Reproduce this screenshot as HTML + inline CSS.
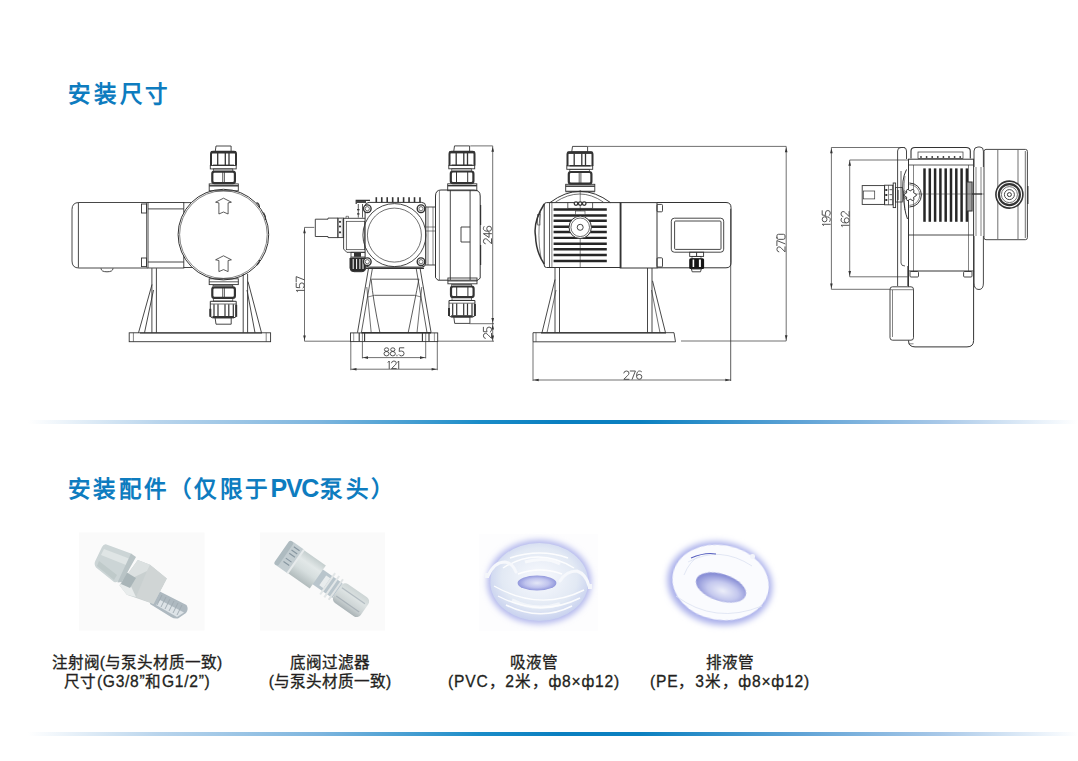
<!DOCTYPE html>
<html lang="zh-CN"><head><meta charset="utf-8">
<style>
html,body{margin:0;padding:0;background:#fff;}
body{width:1078px;height:761px;position:relative;overflow:hidden;font-family:"Liberation Sans",sans-serif;}
.t{position:absolute;color:#0e7cbf;font-weight:bold;font-size:22.5px;letter-spacing:2.8px;white-space:nowrap;line-height:1;}
.cap{position:absolute;color:#231f20;-webkit-text-stroke:0.3px #231f20;font-size:15.6px;line-height:19.3px;text-align:center;white-space:nowrap;}
.div{position:absolute;left:0;width:1078px;height:4px;}
svg{position:absolute;left:0;top:0;}
</style></head><body>
<div class="t" style="left:68px;top:83.5px;">安装尺寸</div>
<div class="t" style="left:68px;top:479px;letter-spacing:2.3px">安装配件（仅限于<span style="font-size:25px;letter-spacing:-1.2px;line-height:0;margin-right:2px">PVC</span>泵头）</div>
<div class="div" style="top:420px;background:linear-gradient(to right,rgba(255,255,255,0) 0px,#ffffff 28px,#b8d4ec 160px,#7db5de 320px,#1a8cc8 480px,#0a7fc0 560px,#0a80c0 640px,#5fa3d6 800px,#a8c8e8 940px,#e8f1fa 1040px,#ffffff 1078px);"></div>
<div class="div" style="top:732px;background:linear-gradient(to right,rgba(255,255,255,0) 0px,#ffffff 28px,#b8d4ec 160px,#7db5de 320px,#1a8cc8 480px,#0a7fc0 560px,#0a80c0 640px,#5fa3d6 800px,#a8c8e8 940px,#e8f1fa 1040px,#ffffff 1078px);"></div>
<svg width="1078" height="761" viewBox="0 0 1078 761">
<path d="M148,202.5 H79 Q72,202.5 72,209.5 V261 Q72,268 79,268 H148" fill="none" stroke="#333333" stroke-width="0.9"/>
<line x1="78.4" y1="203" x2="78.4" y2="267.5" stroke="#333333" stroke-width="0.9"/>
<rect x="148" y="202.5" width="35.8" height="65.5" rx="0" fill="none" stroke="#333333" stroke-width="0.9"/>
<line x1="146.5" y1="203" x2="146.5" y2="267.5" stroke="#333333" stroke-width="0.7"/>
<line x1="148" y1="208.9" x2="183.8" y2="208.9" stroke="#333333" stroke-width="0.9"/>
<line x1="148" y1="262" x2="183.8" y2="262" stroke="#333333" stroke-width="0.9"/>
<rect x="141.5" y="204" width="5.0" height="9" rx="0" fill="none" stroke="#333333" stroke-width="0.9"/>
<rect x="141.5" y="258" width="5.0" height="8.6" rx="0" fill="none" stroke="#333333" stroke-width="0.9"/>
<line x1="183.8" y1="202.6" x2="192" y2="202.6" stroke="#333333" stroke-width="0.9"/>
<line x1="183.8" y1="267.5" x2="192" y2="267.5" stroke="#333333" stroke-width="0.9"/>
<path d="M101,268.3 Q101,271.8 107,271.8 Q113,271.8 113,268.3" fill="none" stroke="#333333" stroke-width="0.9"/>
<circle cx="223.4" cy="234.6" r="45.3" fill="#fff" stroke="#333333" stroke-width="1.0"/>
<circle cx="223.4" cy="234.6" r="43.8" fill="none" stroke="#333333" stroke-width="0.6"/>
<path d="M256.5,202.5 Q259.5,203.5 259.5,208" fill="none" stroke="#333333" stroke-width="1.2"/>
<path d="M263.5,212.5 Q265.5,215 265.5,220" fill="none" stroke="#333333" stroke-width="1.2"/>
<path d="M257,265 Q259.5,263 259.5,260" fill="none" stroke="#333333" stroke-width="1.2"/>
<path d="M223.5,198.2 L215.6,202.2 L218.9,202.9 L218.9,214.0 L223.5,212.0 L228.1,214.0 L228.1,202.9 L231.4,202.2 Z" fill="none" stroke="#333333" stroke-width="0.8"/>
<path d="M223.5,255.8 L215.6,259.8 L218.9,260.5 L218.9,271.6 L223.5,269.6 L228.1,271.6 L228.1,260.5 L231.4,259.8 Z" fill="none" stroke="#333333" stroke-width="0.8"/>
<path d="M216.0,146 H231.1 V151.8 H215.2 Z" fill="none" stroke="#333333" stroke-width="0.9"/>
<path d="M211.0,165.5 V154 Q211.0,151.8 213.0,151.8 H234.0 Q236.0,151.8 236.0,154 V165.5" fill="none" stroke="#333333" stroke-width="2.0"/>
<line x1="211.0" y1="152.3" x2="236.0" y2="152.3" stroke="#333333" stroke-width="2.4"/>
<line x1="217.7" y1="153" x2="217.7" y2="165.5" stroke="#333333" stroke-width="1.3"/>
<line x1="225.3" y1="153" x2="225.3" y2="165.5" stroke="#333333" stroke-width="1.3"/>
<line x1="229.0" y1="153" x2="229.0" y2="165.5" stroke="#333333" stroke-width="1.3"/>
<line x1="213.0" y1="165.3" x2="234.0" y2="165.3" stroke="#333333" stroke-width="1.4"/>
<rect x="210.3" y="165.5" width="25.9" height="3.4" rx="0" fill="none" stroke="#333333" stroke-width="0.9"/>
<rect x="213.3" y="168.9" width="19.5" height="2.7" rx="0" fill="none" stroke="#333333" stroke-width="0.7"/>
<rect x="212.3" y="171.6" width="22.6" height="11.6" rx="2.2" fill="none" stroke="#333333" stroke-width="2.2"/>
<line x1="222.7" y1="172" x2="222.7" y2="183" stroke="#333333" stroke-width="0.8"/>
<line x1="224.4" y1="172" x2="224.4" y2="183" stroke="#333333" stroke-width="0.8"/>
<rect x="209.2" y="183.9" width="29.1" height="6.9" rx="0" fill="none" stroke="#333333" stroke-width="0.9"/>
<line x1="209.2" y1="185.8" x2="238.3" y2="185.8" stroke="#333333" stroke-width="1.4"/>
<rect x="209.2" y="278.8" width="29.1" height="5.8" rx="0" fill="none" stroke="#333333" stroke-width="0.9"/>
<line x1="209.2" y1="281.8" x2="238.3" y2="281.8" stroke="#333333" stroke-width="0.8"/>
<rect x="213.0" y="285.3" width="19.8" height="2.0" rx="0" fill="none" stroke="#333333" stroke-width="0.7"/>
<rect x="212.3" y="287.3" width="22.6" height="10.6" rx="2.2" fill="none" stroke="#333333" stroke-width="2.2"/>
<line x1="222.7" y1="287.8" x2="222.7" y2="297.8" stroke="#333333" stroke-width="0.8"/>
<line x1="224.4" y1="287.8" x2="224.4" y2="297.8" stroke="#333333" stroke-width="0.8"/>
<rect x="213.3" y="298.2" width="19.5" height="2.8" rx="0" fill="none" stroke="#333333" stroke-width="0.7"/>
<path d="M210.3,301.3 H236.2 V315.3 Q236.2,317.7 234.0,317.7 H212.5 Q210.3,317.7 210.3,315.3 Z" fill="none" stroke="#333333" stroke-width="1.0"/>
<line x1="210.3" y1="304.0" x2="236.2" y2="304.0" stroke="#333333" stroke-width="0.7"/>
<line x1="210.3" y1="308.8" x2="210.3" y2="316.8" stroke="#333333" stroke-width="2.0"/>
<line x1="236.2" y1="304.8" x2="236.2" y2="316.8" stroke="#333333" stroke-width="2.0"/>
<line x1="214.0" y1="304.3" x2="214.0" y2="316.3" stroke="#333333" stroke-width="1.2"/>
<line x1="218.0" y1="304.3" x2="218.0" y2="316.3" stroke="#333333" stroke-width="1.2"/>
<line x1="225.0" y1="304.3" x2="225.0" y2="316.3" stroke="#333333" stroke-width="1.2"/>
<line x1="228.8" y1="304.3" x2="228.8" y2="316.3" stroke="#333333" stroke-width="1.2"/>
<line x1="233.3" y1="304.3" x2="233.3" y2="316.3" stroke="#333333" stroke-width="1.2"/>
<line x1="212.5" y1="317.1" x2="234.0" y2="317.1" stroke="#333333" stroke-width="2.2"/>
<path d="M215.1,317.7 H231.2 V324.2 H216.0 Z" fill="none" stroke="#333333" stroke-width="0.9"/>
<rect x="129.2" y="332.8" width="141.4" height="8.9" rx="0" fill="none" stroke="#333333" stroke-width="0.9"/>
<line x1="140" y1="333" x2="262" y2="333" stroke="#333333" stroke-width="1.2"/>
<line x1="133.4" y1="332.8" x2="133.4" y2="341.7" stroke="#333333" stroke-width="0.6"/>
<line x1="266.2" y1="332.8" x2="266.2" y2="341.7" stroke="#333333" stroke-width="0.6"/>
<line x1="151.9" y1="268.2" x2="151.9" y2="332.8" stroke="#333333" stroke-width="0.9"/>
<line x1="156.4" y1="268.2" x2="156.4" y2="332.8" stroke="#333333" stroke-width="0.9"/>
<line x1="152" y1="284.5" x2="138.5" y2="332.8" stroke="#333333" stroke-width="0.9"/>
<line x1="153.5" y1="290" x2="144.5" y2="332.8" stroke="#333333" stroke-width="0.9"/>
<line x1="243.2" y1="274" x2="243.2" y2="332.8" stroke="#333333" stroke-width="0.9"/>
<line x1="247.6" y1="274" x2="247.6" y2="332.8" stroke="#333333" stroke-width="0.9"/>
<line x1="248" y1="281.6" x2="261.5" y2="332.8" stroke="#333333" stroke-width="0.9"/>
<line x1="247" y1="290" x2="255" y2="332.8" stroke="#333333" stroke-width="0.9"/>
<rect x="425.7" y="207" width="9.8" height="58" rx="0" fill="none" stroke="#333333" stroke-width="0.9"/>
<line x1="428" y1="207" x2="428" y2="265" stroke="#333333" stroke-width="0.6"/>
<line x1="433" y1="207" x2="433" y2="265" stroke="#333333" stroke-width="0.6"/>
<line x1="425.7" y1="227" x2="435.5" y2="227" stroke="#333333" stroke-width="0.6"/>
<line x1="425.7" y1="231" x2="435.5" y2="231" stroke="#333333" stroke-width="0.6"/>
<path d="M441,190 H474 Q480.2,190 480.2,196 V278 L478,280.2 H438 L435.5,277.8 V196 Q435.5,190 441,190 Z" fill="#fff" stroke="#333333" stroke-width="1.0"/>
<line x1="439.4" y1="191" x2="439.4" y2="280" stroke="#333333" stroke-width="0.6"/>
<line x1="450.3" y1="190" x2="450.3" y2="280" stroke="#333333" stroke-width="0.9"/>
<line x1="470.1" y1="190" x2="470.1" y2="280" stroke="#333333" stroke-width="0.9"/>
<path d="M470.1,227 H461 V242 H470.1" fill="none" stroke="#333333" stroke-width="0.9"/>
<line x1="480.6" y1="205" x2="480.6" y2="225" stroke="#333333" stroke-width="1.2"/>
<line x1="480.6" y1="245" x2="480.6" y2="265" stroke="#333333" stroke-width="1.2"/>
<path d="M454.5,145.9 H469.6 V151.70000000000002 H453.7 Z" fill="none" stroke="#333333" stroke-width="0.9"/>
<path d="M449.5,165.4 V153.9 Q449.5,151.70000000000002 451.5,151.70000000000002 H472.5 Q474.5,151.70000000000002 474.5,153.9 V165.4" fill="none" stroke="#333333" stroke-width="2.0"/>
<line x1="449.5" y1="152.20000000000002" x2="474.5" y2="152.20000000000002" stroke="#333333" stroke-width="2.4"/>
<line x1="456.2" y1="152.9" x2="456.2" y2="165.4" stroke="#333333" stroke-width="1.3"/>
<line x1="463.8" y1="152.9" x2="463.8" y2="165.4" stroke="#333333" stroke-width="1.3"/>
<line x1="467.5" y1="152.9" x2="467.5" y2="165.4" stroke="#333333" stroke-width="1.3"/>
<line x1="451.5" y1="165.20000000000002" x2="472.5" y2="165.20000000000002" stroke="#333333" stroke-width="1.4"/>
<rect x="448.8" y="165.4" width="25.9" height="3.4" rx="0" fill="none" stroke="#333333" stroke-width="0.9"/>
<rect x="451.8" y="168.8" width="19.5" height="2.7" rx="0" fill="none" stroke="#333333" stroke-width="0.7"/>
<rect x="450.8" y="171.5" width="22.6" height="11.6" rx="2.2" fill="none" stroke="#333333" stroke-width="2.2"/>
<line x1="456.5" y1="171.9" x2="456.5" y2="182.9" stroke="#333333" stroke-width="1.0"/>
<line x1="467.7" y1="171.9" x2="467.7" y2="182.9" stroke="#333333" stroke-width="1.0"/>
<rect x="447.7" y="183.8" width="29.1" height="6.9" rx="0" fill="none" stroke="#333333" stroke-width="0.9"/>
<line x1="447.7" y1="185.7" x2="476.8" y2="185.7" stroke="#333333" stroke-width="1.4"/>
<rect x="447.9" y="278" width="29.1" height="5.8" rx="0" fill="none" stroke="#333333" stroke-width="0.9"/>
<line x1="447.9" y1="281" x2="477.0" y2="281" stroke="#333333" stroke-width="0.8"/>
<rect x="451.7" y="284.5" width="19.8" height="2.0" rx="0" fill="none" stroke="#333333" stroke-width="0.7"/>
<rect x="451.0" y="286.5" width="22.6" height="10.6" rx="2.2" fill="none" stroke="#333333" stroke-width="2.2"/>
<line x1="456.7" y1="287" x2="456.7" y2="297" stroke="#333333" stroke-width="1.0"/>
<line x1="467.9" y1="287" x2="467.9" y2="297" stroke="#333333" stroke-width="1.0"/>
<rect x="452.0" y="297.4" width="19.5" height="2.8" rx="0" fill="none" stroke="#333333" stroke-width="0.7"/>
<path d="M449.0,300.5 H474.9 V314.5 Q474.9,316.9 472.7,316.9 H451.2 Q449.0,316.9 449.0,314.5 Z" fill="none" stroke="#333333" stroke-width="1.0"/>
<line x1="449.0" y1="303.2" x2="474.9" y2="303.2" stroke="#333333" stroke-width="0.7"/>
<line x1="449.0" y1="308" x2="449.0" y2="316" stroke="#333333" stroke-width="2.0"/>
<line x1="474.9" y1="304" x2="474.9" y2="316" stroke="#333333" stroke-width="2.0"/>
<line x1="452.7" y1="303.5" x2="452.7" y2="315.5" stroke="#333333" stroke-width="1.2"/>
<line x1="456.7" y1="303.5" x2="456.7" y2="315.5" stroke="#333333" stroke-width="1.2"/>
<line x1="463.7" y1="303.5" x2="463.7" y2="315.5" stroke="#333333" stroke-width="1.2"/>
<line x1="467.5" y1="303.5" x2="467.5" y2="315.5" stroke="#333333" stroke-width="1.2"/>
<line x1="472.0" y1="303.5" x2="472.0" y2="315.5" stroke="#333333" stroke-width="1.2"/>
<line x1="451.2" y1="316.3" x2="472.7" y2="316.3" stroke="#333333" stroke-width="2.2"/>
<path d="M453.8,316.9 H469.9 V323.4 H454.7 Z" fill="none" stroke="#333333" stroke-width="0.9"/>
<line x1="376.3" y1="197.2" x2="376.3" y2="202.6" stroke="#333333" stroke-width="1.6"/>
<line x1="381.76" y1="197.2" x2="381.76" y2="202.6" stroke="#333333" stroke-width="1.6"/>
<line x1="387.22" y1="197.2" x2="387.22" y2="202.6" stroke="#333333" stroke-width="1.6"/>
<line x1="392.68" y1="197.2" x2="392.68" y2="202.6" stroke="#333333" stroke-width="1.6"/>
<line x1="398.14" y1="197.2" x2="398.14" y2="202.6" stroke="#333333" stroke-width="1.6"/>
<line x1="403.6" y1="197.2" x2="403.6" y2="202.6" stroke="#333333" stroke-width="1.6"/>
<line x1="409.06" y1="197.2" x2="409.06" y2="202.6" stroke="#333333" stroke-width="1.6"/>
<line x1="414.52" y1="197.2" x2="414.52" y2="202.6" stroke="#333333" stroke-width="1.6"/>
<line x1="419.98" y1="197.2" x2="419.98" y2="202.6" stroke="#333333" stroke-width="1.6"/>
<path d="M356.2,204 V200.3 H370" fill="none" stroke="#333333" stroke-width="1.2"/>
<line x1="356.5" y1="202" x2="366" y2="202" stroke="#333333" stroke-width="1.8"/>
<line x1="358.3" y1="204" x2="358.3" y2="217.6" stroke="#333333" stroke-width="0.8"/>
<line x1="362.5" y1="204" x2="362.5" y2="217.6" stroke="#333333" stroke-width="0.8"/>
<line x1="357" y1="209.7" x2="359.5" y2="209.7" stroke="#333333" stroke-width="1.2"/>
<line x1="357" y1="213.9" x2="359.5" y2="213.9" stroke="#333333" stroke-width="1.2"/>
<path d="M315.3,219.2 H328 V218.1 H337.9 V237.6 H328 V236.5 H315.3 Z" fill="#fff" stroke="#333333" stroke-width="0.9"/>
<rect x="337.9" y="218.1" width="5.7" height="19.5" rx="0" fill="none" stroke="#333333" stroke-width="0.9"/>
<circle cx="340" cy="221.8" r="1.1" fill="#333333"/>
<circle cx="340" cy="226.5" r="1.1" fill="#333333"/>
<circle cx="340" cy="232.3" r="1.1" fill="#333333"/>
<line x1="342.3" y1="219" x2="342.3" y2="237" stroke="#333333" stroke-width="0.5"/>
<path d="M365.8,218.3 H343.6 V249 L346.8,252.3 H365.8" fill="none" stroke="#333333" stroke-width="0.9"/>
<rect x="346.3" y="221.3" width="18.4" height="28.4" rx="0" fill="none" stroke="#333333" stroke-width="0.7"/>
<path d="M346,218.3 V216.3 H348.5 V218.3" fill="none" stroke="#333333" stroke-width="0.6"/>
<rect x="351" y="252.3" width="14.7" height="4.7" rx="0" fill="none" stroke="#333333" stroke-width="0.8"/>
<rect x="354" y="252.8" width="7" height="4" fill="#333333"/>
<path d="M350,258 H365.7 V268 Q365.7,271.7 361.5,271.7 H354 Q350,271.7 350,268 Z" fill="#2a2a2a" stroke="#333333" stroke-width="1.0"/>
<line x1="353.2" y1="259" x2="353.2" y2="269" stroke="#fff" stroke-width="1.0"/>
<line x1="356.6" y1="259" x2="356.6" y2="269" stroke="#fff" stroke-width="1.0"/>
<line x1="359.9" y1="259" x2="359.9" y2="269" stroke="#fff" stroke-width="1.0"/>
<line x1="363" y1="259" x2="363" y2="269" stroke="#fff" stroke-width="1.0"/>
<rect x="365.1" y="202.4" width="60.6" height="64.7" rx="4" fill="#fff" stroke="#333333" stroke-width="1.0"/>
<circle cx="394.4" cy="235.1" r="31.5" fill="none" stroke="#333333" stroke-width="0.9"/>
<circle cx="394.4" cy="235.1" r="27" fill="none" stroke="#333333" stroke-width="0.7"/>
<circle cx="367.3" cy="208.7" r="3.8" fill="#fff" stroke="#333333" stroke-width="1.4"/>
<circle cx="367.3" cy="208.7" r="2.1" fill="none" stroke="#333333" stroke-width="0.7"/>
<circle cx="421" cy="208.7" r="3.8" fill="#fff" stroke="#333333" stroke-width="1.4"/>
<circle cx="421" cy="208.7" r="2.1" fill="none" stroke="#333333" stroke-width="0.7"/>
<circle cx="367.3" cy="261.7" r="3.8" fill="#fff" stroke="#333333" stroke-width="1.4"/>
<circle cx="367.3" cy="261.7" r="2.1" fill="none" stroke="#333333" stroke-width="0.7"/>
<circle cx="421" cy="261.7" r="3.8" fill="#fff" stroke="#333333" stroke-width="1.4"/>
<circle cx="421" cy="261.7" r="2.1" fill="none" stroke="#333333" stroke-width="0.7"/>
<line x1="366" y1="268.3" x2="424" y2="268.3" stroke="#333333" stroke-width="1.5"/>
<line x1="368.4" y1="269" x2="357.5" y2="332.6" stroke="#333333" stroke-width="0.9"/>
<line x1="372.3" y1="269" x2="361.4" y2="332.6" stroke="#333333" stroke-width="0.8"/>
<line x1="420.2" y1="269" x2="431.1" y2="332.6" stroke="#333333" stroke-width="0.9"/>
<line x1="416.3" y1="269" x2="427" y2="332.6" stroke="#333333" stroke-width="0.8"/>
<line x1="366.8" y1="287" x2="371.2" y2="332.6" stroke="#333333" stroke-width="0.7"/>
<line x1="421.8" y1="287" x2="417" y2="332.6" stroke="#333333" stroke-width="0.7"/>
<path d="M371.2,279.5 Q373,300 379.9,332.6" fill="none" stroke="#333333" stroke-width="0.8"/>
<path d="M418.8,279.5 Q415,300 408.2,332.6" fill="none" stroke="#333333" stroke-width="0.8"/>
<line x1="371.2" y1="279.2" x2="419.2" y2="279.2" stroke="#333333" stroke-width="0.8"/>
<line x1="374.4" y1="295.3" x2="414.8" y2="295.3" stroke="#333333" stroke-width="0.8"/>
<line x1="368" y1="297" x2="374.4" y2="295.3" stroke="#333333" stroke-width="0.6"/>
<line x1="414.8" y1="295.3" x2="421" y2="297" stroke="#333333" stroke-width="0.6"/>
<rect x="350.5" y="332.9" width="87.2" height="8.7" rx="0" fill="none" stroke="#333333" stroke-width="0.9"/>
<line x1="353.7" y1="332.9" x2="353.7" y2="341.6" stroke="#333333" stroke-width="0.5"/>
<line x1="359.2" y1="332.9" x2="359.2" y2="341.6" stroke="#333333" stroke-width="1.1"/>
<line x1="362.4" y1="332.9" x2="362.4" y2="341.6" stroke="#333333" stroke-width="0.6"/>
<line x1="364.6" y1="332.9" x2="364.6" y2="341.6" stroke="#333333" stroke-width="1.1"/>
<line x1="422.4" y1="332.9" x2="422.4" y2="341.6" stroke="#333333" stroke-width="1.1"/>
<line x1="425.7" y1="332.9" x2="425.7" y2="341.6" stroke="#333333" stroke-width="0.6"/>
<line x1="429" y1="332.9" x2="429" y2="341.6" stroke="#333333" stroke-width="1.1"/>
<line x1="434.4" y1="332.9" x2="434.4" y2="341.6" stroke="#333333" stroke-width="0.5"/>
<line x1="361.4" y1="332.7" x2="431" y2="332.7" stroke="#333333" stroke-width="1.4"/>
<line x1="304.5" y1="227.4" x2="314.3" y2="227.4" stroke="#333333" stroke-width="0.7"/>
<line x1="304.5" y1="227.4" x2="304.5" y2="341.2" stroke="#333333" stroke-width="0.7"/>
<path d="M304.5,228.2 L303.2,233.2 L305.8,233.2 Z" fill="#333333"/>
<path d="M304.5,340.4 L303.2,335.4 L305.8,335.4 Z" fill="#333333"/>
<line x1="304.5" y1="341.2" x2="350.2" y2="341.2" stroke="#333333" stroke-width="0.7"/>
<line x1="438" y1="341.2" x2="494" y2="341.2" stroke="#333333" stroke-width="0.7"/>
<g transform="translate(296.2,291.8) rotate(-90) scale(1.0125)" fill="none" stroke="#4a4a4a" stroke-width="0.94" stroke-linecap="round" stroke-linejoin="round"><path d="M0.2,1.3 L1.4,0 V8" transform="translate(0,0)"/><path d="M4.8,0 H0.5 L0.2,3.6 Q1,3.2 2.5,3.2 Q5,3.2 5,5.6 Q5,8 2.5,8 Q0.6,8 0,6.8" transform="translate(3.8,0)"/><path d="M0,0 H5 L1.8,8" transform="translate(10.0,0)"/></g>
<line x1="470.3" y1="145.9" x2="492.7" y2="145.9" stroke="#333333" stroke-width="0.7"/>
<line x1="492.7" y1="145.9" x2="492.7" y2="341.2" stroke="#333333" stroke-width="0.7"/>
<path d="M492.7,146.7 L491.4,151.7 L494.0,151.7 Z" fill="#333333"/>
<path d="M492.7,322.9 L491.4,317.9 L494.0,317.9 Z" fill="#333333"/>
<line x1="469.6" y1="323.7" x2="494" y2="323.7" stroke="#333333" stroke-width="0.7"/>
<path d="M492.7,324.5 L491.4,329.5 L494.0,329.5 Z" fill="#333333"/>
<path d="M492.7,340.4 L491.4,335.4 L494.0,335.4 Z" fill="#333333"/>
<g transform="translate(483.4,243.8) rotate(-90) scale(1.0125)" fill="none" stroke="#4a4a4a" stroke-width="0.94" stroke-linecap="round" stroke-linejoin="round"><path d="M0,1.9 Q0.3,0 2.5,0 Q5,0 5,2 Q5,3.3 3.6,4.5 L0,8 H5" transform="translate(0,0)"/><path d="M3.8,8 V0 L0,5.6 H5" transform="translate(6.2,0)"/><path d="M4.6,0.6 Q3.8,0 2.8,0 Q0,0 0,4.5 V5.6 Q0,8 2.5,8 Q5,8 5,5.6 Q5,3.3 2.5,3.3 Q0.5,3.3 0,4.8" transform="translate(12.4,0)"/></g>
<g transform="translate(483.4,338.4) rotate(-90) scale(1.0125)" fill="none" stroke="#4a4a4a" stroke-width="0.94" stroke-linecap="round" stroke-linejoin="round"><path d="M0,1.9 Q0.3,0 2.5,0 Q5,0 5,2 Q5,3.3 3.6,4.5 L0,8 H5" transform="translate(0,0)"/><path d="M4.8,0 H0.5 L0.2,3.6 Q1,3.2 2.5,3.2 Q5,3.2 5,5.6 Q5,8 2.5,8 Q0.6,8 0,6.8" transform="translate(6.2,0)"/></g>
<line x1="362.4" y1="341.6" x2="362.4" y2="358.4" stroke="#333333" stroke-width="0.7"/>
<line x1="425.7" y1="341.6" x2="425.7" y2="358.4" stroke="#333333" stroke-width="0.7"/>
<line x1="362.4" y1="357.6" x2="425.7" y2="357.6" stroke="#333333" stroke-width="0.7"/>
<path d="M363,357.6 L368,356.3 L368,358.90000000000003 Z" fill="#333333"/>
<path d="M425,357.6 L420,356.3 L420,358.90000000000003 Z" fill="#333333"/>
<g transform="translate(384,347.8) scale(1.0125)" fill="none" stroke="#4a4a4a" stroke-width="0.94" stroke-linecap="round" stroke-linejoin="round"><path d="M2.5,3.6 Q0.4,3.6 0.4,1.8 Q0.4,0 2.5,0 Q4.6,0 4.6,1.8 Q4.6,3.6 2.5,3.6 Q0,3.6 0,5.8 Q0,8 2.5,8 Q5,8 5,5.8 Q5,3.6 2.5,3.6 Z" transform="translate(0,0)"/><path d="M2.5,3.6 Q0.4,3.6 0.4,1.8 Q0.4,0 2.5,0 Q4.6,0 4.6,1.8 Q4.6,3.6 2.5,3.6 Q0,3.6 0,5.8 Q0,8 2.5,8 Q5,8 5,5.8 Q5,3.6 2.5,3.6 Z" transform="translate(6.2,0)"/><path d="M0.4,7.3 V8" transform="translate(12.4,0)"/><path d="M4.8,0 H0.5 L0.2,3.6 Q1,3.2 2.5,3.2 Q5,3.2 5,5.6 Q5,8 2.5,8 Q0.6,8 0,6.8" transform="translate(14.8,0)"/></g>
<line x1="350.8" y1="341.6" x2="350.8" y2="370.2" stroke="#333333" stroke-width="0.7"/>
<line x1="437.3" y1="341.6" x2="437.3" y2="370.2" stroke="#333333" stroke-width="0.7"/>
<line x1="350.8" y1="369.2" x2="437.3" y2="369.2" stroke="#333333" stroke-width="0.7"/>
<path d="M351.5,369.2 L356.5,367.9 L356.5,370.5 Z" fill="#333333"/>
<path d="M436.6,369.2 L431.6,367.9 L431.6,370.5 Z" fill="#333333"/>
<g transform="translate(387.9,361) scale(0.95)" fill="none" stroke="#4a4a4a" stroke-width="1.00" stroke-linecap="round" stroke-linejoin="round"><path d="M0.2,1.3 L1.4,0 V8" transform="translate(0,0)"/><path d="M0,1.9 Q0.3,0 2.5,0 Q5,0 5,2 Q5,3.3 3.6,4.5 L0,8 H5" transform="translate(3.8,0)"/><path d="M0.2,1.3 L1.4,0 V8" transform="translate(10.0,0)"/></g>
<path d="M572.5,146.4 H587.6 V152.20000000000002 H571.7 Z" fill="none" stroke="#333333" stroke-width="0.9"/>
<path d="M567.5,165.9 V154.4 Q567.5,152.20000000000002 569.5,152.20000000000002 H590.5 Q592.5,152.20000000000002 592.5,154.4 V165.9" fill="none" stroke="#333333" stroke-width="2.0"/>
<line x1="567.5" y1="152.70000000000002" x2="592.5" y2="152.70000000000002" stroke="#333333" stroke-width="2.4"/>
<line x1="574.2" y1="153.4" x2="574.2" y2="165.9" stroke="#333333" stroke-width="1.3"/>
<line x1="581.8" y1="153.4" x2="581.8" y2="165.9" stroke="#333333" stroke-width="1.3"/>
<line x1="585.5" y1="153.4" x2="585.5" y2="165.9" stroke="#333333" stroke-width="1.3"/>
<line x1="569.5" y1="165.70000000000002" x2="590.5" y2="165.70000000000002" stroke="#333333" stroke-width="1.4"/>
<rect x="566.8" y="165.9" width="25.9" height="3.4" rx="0" fill="none" stroke="#333333" stroke-width="0.9"/>
<rect x="569.8" y="169.3" width="19.5" height="2.7" rx="0" fill="none" stroke="#333333" stroke-width="0.7"/>
<rect x="568.8" y="172.0" width="22.6" height="11.6" rx="2.2" fill="none" stroke="#333333" stroke-width="2.2"/>
<line x1="579.2" y1="172.4" x2="579.2" y2="183.4" stroke="#333333" stroke-width="0.8"/>
<line x1="580.9" y1="172.4" x2="580.9" y2="183.4" stroke="#333333" stroke-width="0.8"/>
<rect x="565.7" y="184.3" width="29.1" height="6.9" rx="0" fill="none" stroke="#333333" stroke-width="0.9"/>
<line x1="565.7" y1="186.2" x2="594.8" y2="186.2" stroke="#333333" stroke-width="1.4"/>
<path d="M550,202.6 Q580,180 610.5,202.6" fill="none" stroke="#333333" stroke-width="1.0"/>
<path d="M555.5,202 Q580,186 603.3,202" fill="none" stroke="#333333" stroke-width="0.7"/>
<line x1="565.5" y1="191.8" x2="595" y2="191.8" stroke="#333333" stroke-width="0.8"/>
<path d="M620.2,202.6 H546.5 Q544.2,202.6 544.2,205 V265 Q544.2,267.5 546.5,267.5 H620.2" fill="none" stroke="#333333" stroke-width="1.0"/>
<line x1="549.5" y1="202.6" x2="549.5" y2="267.5" stroke="#333333" stroke-width="0.8"/>
<line x1="551.9" y1="202.6" x2="551.9" y2="267.5" stroke="#333333" stroke-width="0.6"/>
<path d="M544.2,204 Q533,222 535.5,236 Q536,252 544.2,264" fill="none" stroke="#333333" stroke-width="1.5"/>
<path d="M540.5,212 Q537,236 541,258" fill="none" stroke="#333333" stroke-width="0.6"/>
<rect x="537.7" y="214.3" width="2.3" height="10.7" rx="0" fill="none" stroke="#333333" stroke-width="0.6"/>
<line x1="580.2" y1="190" x2="580.2" y2="267.5" stroke="#333333" stroke-width="0.6"/>
<line x1="553.6" y1="209.5" x2="606.8" y2="209.5" stroke="#262626" stroke-width="2.4"/>
<line x1="553.6" y1="215.5" x2="606.8" y2="215.5" stroke="#262626" stroke-width="2.4"/>
<line x1="553.6" y1="220.8" x2="606.8" y2="220.8" stroke="#262626" stroke-width="2.4"/>
<line x1="553.6" y1="226.7" x2="606.8" y2="226.7" stroke="#262626" stroke-width="2.4"/>
<line x1="553.6" y1="232" x2="606.8" y2="232" stroke="#262626" stroke-width="2.4"/>
<line x1="553.6" y1="237.9" x2="606.8" y2="237.9" stroke="#262626" stroke-width="2.4"/>
<line x1="553.6" y1="243.8" x2="606.8" y2="243.8" stroke="#262626" stroke-width="2.4"/>
<line x1="553.6" y1="249.2" x2="606.8" y2="249.2" stroke="#262626" stroke-width="2.4"/>
<line x1="553.6" y1="255" x2="606.8" y2="255" stroke="#262626" stroke-width="2.4"/>
<line x1="553.6" y1="261" x2="606.8" y2="261" stroke="#262626" stroke-width="2.4"/>
<line x1="567.8" y1="202.6" x2="567.8" y2="208.4" stroke="#333333" stroke-width="0.8"/>
<line x1="592.6" y1="202.6" x2="592.6" y2="208.4" stroke="#333333" stroke-width="0.8"/>
<line x1="567.8" y1="208.4" x2="592.6" y2="208.4" stroke="#333333" stroke-width="0.6"/>
<circle cx="576" cy="203.6" r="1.8" fill="#fff" stroke="#333333" stroke-width="1.3"/>
<circle cx="580.2" cy="203.6" r="1.8" fill="#fff" stroke="#333333" stroke-width="1.3"/>
<circle cx="584.2" cy="203.6" r="1.8" fill="#fff" stroke="#333333" stroke-width="1.3"/>
<rect x="575.5" y="211" width="9.5" height="3.5" rx="0" fill="#fff" stroke="#333333" stroke-width="0.6"/>
<circle cx="580.2" cy="227.3" r="11.2" fill="#fff" stroke="#333333" stroke-width="1.0"/>
<circle cx="580.2" cy="227.3" r="9.3" fill="none" stroke="#333333" stroke-width="0.7"/>
<circle cx="580.2" cy="227.3" r="3" fill="none" stroke="#333333" stroke-width="0.9"/>
<rect x="620.2" y="202.6" width="36.8" height="65.4" rx="0" fill="none" stroke="#333333" stroke-width="1.0"/>
<line x1="620.7" y1="202.6" x2="620.7" y2="268" stroke="#333333" stroke-width="1.6"/>
<rect x="657" y="204.4" width="5.5" height="7.4" rx="1" fill="none" stroke="#333333" stroke-width="0.9"/>
<rect x="657" y="257.8" width="5.5" height="9.2" rx="1" fill="none" stroke="#333333" stroke-width="0.9"/>
<path d="M657,202.5 H726 Q731,202.5 731,207.5 V262.8 Q731,267.8 726,267.8 H657" fill="none" stroke="#333333" stroke-width="1.0"/>
<line x1="730.7" y1="209" x2="730.7" y2="381" stroke="#333333" stroke-width="0.8"/>
<rect x="671.3" y="218.2" width="52.4" height="34.0" rx="3" fill="none" stroke="#333333" stroke-width="0.9"/>
<rect x="674.6" y="221" width="46.4" height="28.4" rx="1" fill="none" stroke="#333333" stroke-width="0.9"/>
<rect x="689.7" y="252.2" width="13.9" height="4.2" rx="0" fill="none" stroke="#333333" stroke-width="0.9"/>
<line x1="696.6" y1="252.2" x2="696.6" y2="256.4" stroke="#333333" stroke-width="1.0"/>
<rect x="692" y="256.4" width="9" height="2.4" rx="0" fill="none" stroke="#333333" stroke-width="0.6"/>
<rect x="689.2" y="258.3" width="14.9" height="10.8" rx="1.5" fill="#151515"/>
<rect x="692.6" y="259.5" width="1.6" height="7.5" fill="#fff"/>
<rect x="698.9" y="259.5" width="2" height="7.5" fill="#fff"/>
<path d="M691.4,269 H701.3 L700.5,271.8 H692.2 Z" fill="none" stroke="#333333" stroke-width="0.9"/>
<line x1="555" y1="268" x2="555" y2="332.7" stroke="#333333" stroke-width="0.9"/>
<line x1="559.5" y1="268" x2="559.5" y2="332.7" stroke="#333333" stroke-width="0.9"/>
<line x1="555" y1="279.5" x2="542" y2="332.7" stroke="#333333" stroke-width="0.9"/>
<line x1="556" y1="290" x2="547" y2="332.7" stroke="#333333" stroke-width="0.7"/>
<line x1="647.5" y1="268" x2="647.5" y2="332.7" stroke="#333333" stroke-width="0.9"/>
<line x1="652" y1="268" x2="652" y2="332.7" stroke="#333333" stroke-width="0.9"/>
<line x1="652.5" y1="280.8" x2="665.5" y2="332.7" stroke="#333333" stroke-width="0.9"/>
<line x1="651.5" y1="290" x2="660" y2="332.7" stroke="#333333" stroke-width="0.7"/>
<path d="M533,332.7 H674 L675.5,341.8 H533 Z" fill="none" stroke="#333333" stroke-width="0.9"/>
<line x1="541" y1="332.9" x2="666" y2="332.9" stroke="#333333" stroke-width="1.2"/>
<line x1="536" y1="332.7" x2="536" y2="341.8" stroke="#333333" stroke-width="0.6"/>
<line x1="588" y1="146.4" x2="786.2" y2="146.4" stroke="#333333" stroke-width="0.7"/>
<line x1="786.2" y1="146.4" x2="786.2" y2="341" stroke="#333333" stroke-width="0.7"/>
<path d="M786.2,147.2 L784.9000000000001,152.2 L787.5,152.2 Z" fill="#333333"/>
<path d="M786.2,340.2 L784.9000000000001,335.2 L787.5,335.2 Z" fill="#333333"/>
<line x1="681" y1="341" x2="786.2" y2="341" stroke="#333333" stroke-width="0.7"/>
<g transform="translate(776.9,251.9) rotate(-90) scale(1.0125)" fill="none" stroke="#4a4a4a" stroke-width="0.94" stroke-linecap="round" stroke-linejoin="round"><path d="M0,1.9 Q0.3,0 2.5,0 Q5,0 5,2 Q5,3.3 3.6,4.5 L0,8 H5" transform="translate(0,0)"/><path d="M0,0 H5 L1.8,8" transform="translate(6.2,0)"/><path d="M1.5,0 H3.5 Q5,0 5,1.6 V6.4 Q5,8 3.5,8 H1.5 Q0,8 0,6.4 V1.6 Q0,0 1.5,0 Z" transform="translate(12.4,0)"/></g>
<line x1="533" y1="341.8" x2="533" y2="381" stroke="#333333" stroke-width="0.7"/>
<line x1="533" y1="380" x2="731" y2="380" stroke="#333333" stroke-width="0.7"/>
<path d="M533.7,380 L538.7,378.7 L538.7,381.3 Z" fill="#333333"/>
<path d="M730.3,380 L725.3,378.7 L725.3,381.3 Z" fill="#333333"/>
<g transform="translate(623.8,371) scale(1.0375)" fill="none" stroke="#4a4a4a" stroke-width="0.92" stroke-linecap="round" stroke-linejoin="round"><path d="M0,1.9 Q0.3,0 2.5,0 Q5,0 5,2 Q5,3.3 3.6,4.5 L0,8 H5" transform="translate(0,0)"/><path d="M0,0 H5 L1.8,8" transform="translate(6.2,0)"/><path d="M4.6,0.6 Q3.8,0 2.8,0 Q0,0 0,4.5 V5.6 Q0,8 2.5,8 Q5,8 5,5.6 Q5,3.3 2.5,3.3 Q0.5,3.3 0,4.8" transform="translate(12.4,0)"/></g>
<line x1="831.4" y1="147.5" x2="905" y2="147.5" stroke="#333333" stroke-width="0.7"/>
<line x1="831.4" y1="147.5" x2="831.4" y2="289.3" stroke="#333333" stroke-width="0.7"/>
<path d="M831.4,148.3 L830.1,153.3 L832.6999999999999,153.3 Z" fill="#333333"/>
<path d="M831.4,288.5 L830.1,283.5 L832.6999999999999,283.5 Z" fill="#333333"/>
<line x1="831.4" y1="289.3" x2="891.8" y2="289.3" stroke="#333333" stroke-width="0.7"/>
<g transform="translate(822.2,225.7) rotate(-90) scale(1.0125)" fill="none" stroke="#4a4a4a" stroke-width="0.94" stroke-linecap="round" stroke-linejoin="round"><path d="M0.2,1.3 L1.4,0 V8" transform="translate(0,0)"/><path d="M0.4,7.4 Q1.2,8 2.2,8 Q5,8 5,3.5 V2.4 Q5,0 2.5,0 Q0,0 0,2.4 Q0,4.7 2.5,4.7 Q4.5,4.7 5,3.2" transform="translate(3.8,0)"/><path d="M4.8,0 H0.5 L0.2,3.6 Q1,3.2 2.5,3.2 Q5,3.2 5,5.6 Q5,8 2.5,8 Q0.6,8 0,6.8" transform="translate(10.0,0)"/></g>
<line x1="849.7" y1="160" x2="908.5" y2="160" stroke="#333333" stroke-width="0.7"/>
<line x1="849.7" y1="160" x2="849.7" y2="276.8" stroke="#333333" stroke-width="0.7"/>
<path d="M849.7,160.8 L848.4000000000001,165.8 L851.0,165.8 Z" fill="#333333"/>
<path d="M849.7,276 L848.4000000000001,271 L851.0,271 Z" fill="#333333"/>
<line x1="849.7" y1="276.8" x2="907.7" y2="276.8" stroke="#333333" stroke-width="0.7"/>
<g transform="translate(841,226.7) rotate(-90) scale(1.0125)" fill="none" stroke="#4a4a4a" stroke-width="0.94" stroke-linecap="round" stroke-linejoin="round"><path d="M0.2,1.3 L1.4,0 V8" transform="translate(0,0)"/><path d="M4.6,0.6 Q3.8,0 2.8,0 Q0,0 0,4.5 V5.6 Q0,8 2.5,8 Q5,8 5,5.6 Q5,3.3 2.5,3.3 Q0.5,3.3 0,4.8" transform="translate(3.8,0)"/><path d="M0,1.9 Q0.3,0 2.5,0 Q5,0 5,2 Q5,3.3 3.6,4.5 L0,8 H5" transform="translate(10.0,0)"/></g>
<path d="M897.6,286 V151 Q897.6,147.5 901,147.5 H903.5 Q906.5,147.5 906.5,151 V159" fill="none" stroke="#333333" stroke-width="0.9"/>
<path d="M901,171 V263 Q901,266 905,266" fill="none" stroke="#333333" stroke-width="0.8"/>
<line x1="907.7" y1="266" x2="907.7" y2="286" stroke="#333333" stroke-width="0.8"/>
<path d="M974,167 V151 Q974,147 978,147 H980 Q983.4,147 983.4,151 V167" fill="none" stroke="#333333" stroke-width="0.9"/>
<path d="M974,236 V283 Q974,289.5 979,289.5 Q983.4,289.5 983.4,283 V236" fill="none" stroke="#333333" stroke-width="0.9"/>
<line x1="976" y1="167" x2="976" y2="236" stroke="#333333" stroke-width="0.6"/>
<line x1="981" y1="167" x2="981" y2="236" stroke="#333333" stroke-width="0.6"/>
<rect x="984" y="149.4" width="43.4" height="90.3" rx="2" fill="none" stroke="#333333" stroke-width="0.9"/>
<line x1="997.8" y1="150" x2="997.8" y2="239" stroke="#333333" stroke-width="0.7"/>
<line x1="1018" y1="150" x2="1018" y2="239" stroke="#333333" stroke-width="0.7"/>
<line x1="1025.3" y1="151" x2="1025.3" y2="238" stroke="#333333" stroke-width="0.7"/>
<line x1="1027.8" y1="186" x2="1027.8" y2="204" stroke="#333333" stroke-width="1.3"/>
<circle cx="1009.4" cy="194.6" r="13.5" fill="#fff" stroke="#333333" stroke-width="1.6"/>
<circle cx="1009.4" cy="194.6" r="10.5" fill="none" stroke="#333333" stroke-width="2.2"/>
<circle cx="1009.4" cy="194.6" r="8" fill="none" stroke="#333333" stroke-width="0.7"/>
<circle cx="1009.4" cy="194.6" r="5" fill="none" stroke="#333333" stroke-width="0.9"/>
<circle cx="1009.4" cy="194.6" r="2" fill="none" stroke="#333333" stroke-width="1.0"/>
<path d="M911,158.4 V151 Q911,147.5 915,147.5 H966 Q970.3,147.5 970.3,151 V158.4" fill="none" stroke="#333333" stroke-width="1.1"/>
<rect x="918" y="152" width="45" height="6.4" rx="0" fill="none" stroke="#333333" stroke-width="0.7"/>
<circle cx="921.0" cy="157" r="0.9" fill="#333333"/>
<circle cx="926.6" cy="157" r="0.9" fill="#333333"/>
<circle cx="932.2" cy="157" r="0.9" fill="#333333"/>
<circle cx="937.8" cy="157" r="0.9" fill="#333333"/>
<circle cx="943.4" cy="157" r="0.9" fill="#333333"/>
<circle cx="949.0" cy="157" r="0.9" fill="#333333"/>
<circle cx="954.6" cy="157" r="0.9" fill="#333333"/>
<circle cx="960.2" cy="157" r="0.9" fill="#333333"/>
<rect x="908.5" y="159.2" width="65.1" height="111.8" rx="0" fill="none" stroke="#333333" stroke-width="1.0"/>
<line x1="908.5" y1="165" x2="973.6" y2="165" stroke="#333333" stroke-width="0.8"/>
<line x1="908.5" y1="235" x2="973.6" y2="235" stroke="#333333" stroke-width="0.9"/>
<line x1="913.5" y1="165" x2="913.5" y2="271" stroke="#333333" stroke-width="0.6"/>
<line x1="968.5" y1="165" x2="968.5" y2="271" stroke="#333333" stroke-width="0.6"/>
<line x1="924.5" y1="168.4" x2="924.5" y2="221.8" stroke="#262626" stroke-width="2.5"/>
<line x1="929.8" y1="168.4" x2="929.8" y2="221.8" stroke="#262626" stroke-width="2.5"/>
<line x1="935.1" y1="168.4" x2="935.1" y2="221.8" stroke="#262626" stroke-width="2.5"/>
<line x1="940.4" y1="168.4" x2="940.4" y2="221.8" stroke="#262626" stroke-width="2.5"/>
<line x1="945.7" y1="168.4" x2="945.7" y2="221.8" stroke="#262626" stroke-width="2.5"/>
<line x1="951.0" y1="168.4" x2="951.0" y2="221.8" stroke="#262626" stroke-width="2.5"/>
<line x1="956.3" y1="168.4" x2="956.3" y2="221.8" stroke="#262626" stroke-width="2.5"/>
<line x1="961.6" y1="168.4" x2="961.6" y2="221.8" stroke="#262626" stroke-width="2.5"/>
<line x1="966.9" y1="168.4" x2="966.9" y2="221.8" stroke="#262626" stroke-width="2.5"/>
<rect x="966.9" y="182" width="5.2" height="29" rx="0" fill="#a0a0a0" stroke="#333333" stroke-width="1.0"/>
<line x1="908.5" y1="194" x2="984" y2="194" stroke="#333333" stroke-width="0.5"/>
<line x1="972" y1="194" x2="982" y2="194" stroke="#333333" stroke-width="1.2"/>
<path d="M906.5,169.5 Q901,180 903.5,195 Q904,210 907.5,219" fill="none" stroke="#333333" stroke-width="1.0"/>
<path d="M905,176 Q903,190 905,210" fill="none" stroke="#333333" stroke-width="0.5"/>
<path d="M909.4,183 A12,12 0 0 1 909.4,207" fill="none" stroke="#333333" stroke-width="1.0"/>
<path d="M909.4,184.6 A10.4,10.4 0 0 1 909.4,205.4" fill="none" stroke="#333333" stroke-width="0.6"/>
<path d="M916.50,195.00 L915.86,196.00 L914.57,196.59 L913.75,197.05 L913.76,197.99 L913.90,199.40 L913.35,200.46 L912.17,200.40 L911.01,199.58 L910.20,199.10 L909.39,199.58 L908.23,200.40 L907.05,200.46 L906.50,199.40 L906.64,197.99 L906.65,197.05 L905.83,196.59 L904.54,196.00 L903.90,195.00 L904.54,194.00 L905.83,193.41 L906.65,192.95 L906.64,192.01 L906.50,190.60 L907.05,189.54 L908.23,189.60 L909.39,190.42 L910.20,190.90 L911.01,190.42 L912.17,189.60 L913.35,189.54 L913.90,190.60 L913.76,192.01 L913.75,192.95 L914.57,193.41 L915.86,194.00 Z" fill="#fff" stroke="#333333" stroke-width="1.0"/>
<circle cx="904.6" cy="191.8" r="1.0" fill="none" stroke="#333333" stroke-width="0.6"/>
<circle cx="904.6" cy="198.2" r="1.0" fill="none" stroke="#333333" stroke-width="0.6"/>
<rect x="862.2" y="185.6" width="22.4" height="18.8" rx="0" fill="#fff" stroke="#333333" stroke-width="0.9"/>
<rect x="863.3" y="191" width="11.4" height="7.9" rx="0" fill="none" stroke="#333333" stroke-width="0.7"/>
<rect x="884.6" y="185.2" width="8.2" height="19.6" rx="0" fill="none" stroke="#333333" stroke-width="0.9"/>
<line x1="888.5" y1="185.2" x2="888.5" y2="204.8" stroke="#333333" stroke-width="0.6"/>
<rect x="885.3" y="189" width="2" height="2" fill="#333333"/>
<rect x="889.5" y="189" width="2.5" height="1.2" fill="#777"/>
<rect x="885.3" y="194" width="2" height="2" fill="#333333"/>
<rect x="889.5" y="194" width="2.5" height="1.2" fill="#777"/>
<rect x="885.3" y="199" width="2" height="2" fill="#333333"/>
<rect x="889.5" y="199" width="2.5" height="1.2" fill="#777"/>
<rect x="893.2" y="183" width="2.4" height="24.6" rx="0" fill="none" stroke="#333333" stroke-width="0.9"/>
<rect x="895.6" y="187.5" width="6.7" height="14.5" rx="0" fill="none" stroke="#333333" stroke-width="0.8"/>
<line x1="898" y1="190" x2="898" y2="200" stroke="#333333" stroke-width="1.0"/>
<rect x="910" y="271.5" width="8.5" height="5.5" rx="1" fill="none" stroke="#333333" stroke-width="0.9"/>
<rect x="963.6" y="271.5" width="8.4" height="5.5" rx="1" fill="none" stroke="#333333" stroke-width="0.9"/>
<path d="M908.5,271 V340.5 Q908.5,346.9 915,346.9 H967 Q973.6,346.9 973.6,340.5 V271" fill="none" stroke="#333333" stroke-width="1.0"/>
<line x1="908.5" y1="343.8" x2="913.5" y2="343.8" stroke="#333333" stroke-width="0.6"/>
<rect x="890" y="286.8" width="23.5" height="53.4" rx="2.5" fill="#fff" stroke="#333333" stroke-width="0.9"/>
<line x1="892.5" y1="290" x2="892.5" y2="337" stroke="#333333" stroke-width="0.6"/>
<line x1="890" y1="289.7" x2="913.5" y2="289.7" stroke="#333333" stroke-width="0.6"/>
<defs>
<filter id="bl1" x="-30%" y="-30%" width="160%" height="160%"><feGaussianBlur stdDeviation="3"/></filter>
<filter id="bl2" x="-30%" y="-30%" width="160%" height="160%"><feGaussianBlur stdDeviation="1.2"/></filter>
<filter id="bl05" x="-30%" y="-30%" width="160%" height="160%"><feGaussianBlur stdDeviation="0.6"/></filter>
<linearGradient id="capg" x1="0" y1="0" x2="0" y2="1">
<stop offset="0" stop-color="#c4cece"/><stop offset="0.3" stop-color="#e2e8e8"/><stop offset="0.6" stop-color="#d6dede"/><stop offset="1" stop-color="#b2bcbd"/>
</linearGradient>
<linearGradient id="bodyg" x1="0" y1="0" x2="0" y2="1">
<stop offset="0" stop-color="#cdd5d5"/><stop offset="0.35" stop-color="#dce2e2"/><stop offset="0.7" stop-color="#ccd3d4"/><stop offset="1" stop-color="#aab3b6"/>
</linearGradient>
<linearGradient id="thrg" x1="0" y1="0" x2="0" y2="1">
<stop offset="0" stop-color="#b9c0c4"/><stop offset="0.5" stop-color="#dde2e4"/><stop offset="1" stop-color="#a9b0b4"/>
</linearGradient>
<radialGradient id="holeg" cx="0.5" cy="0.5" r="0.5">
<stop offset="0" stop-color="#e4e7f7"/><stop offset="0.6" stop-color="#c0c4ee"/><stop offset="1" stop-color="#9298dc"/>
</radialGradient>
<radialGradient id="coil1g" cx="0.5" cy="0.45" r="0.55">
<stop offset="0.2" stop-color="#f2f5fb"/><stop offset="0.7" stop-color="#e2e9f4"/><stop offset="1" stop-color="#c8d1ef"/>
</radialGradient>
<radialGradient id="holeg2" cx="0.55" cy="0.6" r="0.55">
<stop offset="0" stop-color="#eceef9"/><stop offset="0.55" stop-color="#c4c8ee"/><stop offset="1" stop-color="#8a90d6"/>
</radialGradient>
</defs>
<!-- photo backgrounds -->
<rect x="79" y="532.5" width="125.5" height="98" fill="#fafafa"/>
<rect x="260" y="532.5" width="125" height="98" fill="#fafafa"/>
<rect x="479" y="534" width="119" height="97" fill="#fdfdfe"/>
<!-- injection valve -->
<g filter="url(#bl05)">
  <path d="M153,588 L186.5,605 Q189,609 186,613 L178,618.5 Q174,619 171,617 L150,604 Z" fill="#aeb9c0"/>
  <path d="M160,600 L184,612.5 L177,617 L156,605 Z" fill="#dde3e7"/>
  <g stroke="#9ea9b0" stroke-width="0.9"><line x1="158" y1="593" x2="153" y2="603"/><line x1="162" y1="595" x2="157" y2="605"/><line x1="166" y1="597" x2="161" y2="607"/><line x1="170" y1="599" x2="165" y2="609"/><line x1="174" y1="601" x2="169" y2="611"/><line x1="178" y1="603" x2="173" y2="613"/><line x1="182" y1="605" x2="177" y2="615"/></g>
  <path d="M137.8,560 L150,564.7 L166.8,578.5 L153.5,604 L126.8,594.7 L119.4,585.2 Z" fill="#c9d0d0"/>
  <path d="M150,564.7 L166.8,578.5 L153.5,604 L136,597 L147,571 Z" fill="#d0d5d5"/>
  <path d="M137.8,560 L150,564.7 L147,571 L122,583 L119.4,585.2 Z" fill="#dce1e1"/>
  <path d="M119.4,585.2 L126.8,594.7 L136,597 L128,580 Z" fill="#e8ecec"/>
  <path d="M126,572 L136,578 L130,588 L121,584 Z" fill="#a9b5b8"/>
  <path d="M105.8,544.2 L131,553.5 Q134,556 133,559 L120,580 Q117.5,583 114,582 L96,567.5 Q93.5,564 95.5,560.5 L102,547 Q103.5,544 105.8,544.2 Z" fill="#ccd5d6"/>
  <path d="M104,549 L129,558.5 L126,565 L101,555 Z" fill="#dfe5e5"/>
  <path d="M97,566 L114,580 L117,575 L99,561 Z" fill="#bfcaca"/>
  <path d="M131,553.5 L136,557 L122,582 L117.5,582.5 Z" fill="#b9c4c6"/>
</g>
<!-- foot valve -->
<g transform="translate(299.8,564.3) rotate(35)">
  <rect x="46" y="-11.5" width="33" height="23" rx="5" fill="url(#bodyg)"/>
  <line x1="48" y1="-5" x2="76" y2="-5" stroke="#b3bcc2" stroke-width="1.2"/>
  <line x1="48" y1="5" x2="76" y2="5" stroke="#a9b2b8" stroke-width="1.2"/>
  <rect x="21" y="-9" width="25" height="18" fill="#b9c5cc"/>
  <rect x="28" y="-6" width="5" height="12" fill="#e8eced"/>
  <rect x="33" y="-13" width="2" height="26" fill="#e3e7e8"/>
  <rect x="38" y="-13" width="2" height="26" fill="#e3e7e8"/>
  <rect x="43" y="-12.5" width="2" height="25" fill="#dfe3e4"/>
  <rect x="-5" y="-14" width="27" height="28" fill="url(#capg)"/>
  <rect x="-18" y="-14.5" width="13" height="29" fill="#c3cdd1"/>
  <g stroke="#8796a0" stroke-width="1.1">
    <line x1="-15" y1="-11" x2="-8" y2="-11"/><line x1="-15" y1="-7" x2="-8" y2="-7"/><line x1="-15" y1="-3" x2="-8" y2="-3"/><line x1="-15" y1="3" x2="-8" y2="3"/><line x1="-15" y1="7" x2="-8" y2="7"/>
  </g>
  <rect x="-22" y="-14.5" width="5" height="29" rx="2.5" fill="#aebbc0"/>
  <rect x="-6" y="-14.5" width="2" height="29" fill="#e6eaeb"/>
</g>
<!-- coil 1 PVC -->
<ellipse cx="539.3" cy="582" rx="52" ry="42" fill="#b0b5ec" filter="url(#bl1)"/>
<ellipse cx="539.3" cy="582" rx="49" ry="39" fill="url(#coil1g)" filter="url(#bl05)"/>
<g stroke="#ffffff" stroke-width="1.4" fill="none" opacity="0.9" filter="url(#bl05)">
  <path d="M503,568 Q538,546 574,568"/>
  <path d="M510,558 Q540,548 568,558"/>
  <path d="M518,574 Q540,566 562,574"/>
  <path d="M494,586 Q540,612 584,590"/>
  <path d="M498,596 Q540,618 580,598"/>
  <path d="M506,605 Q540,622 572,606"/>
  <path d="M525,562 Q545,556 560,564" stroke-width="3" opacity="0.7"/>
  <path d="M512,600 Q535,612 560,604" stroke-width="3.5" opacity="0.6"/>
</g>
<ellipse cx="537" cy="583" rx="19.4" ry="7.5" fill="url(#holeg)" filter="url(#bl05)"/>
<g stroke="#f6f8fc" stroke-width="3" fill="none" stroke-linecap="round" filter="url(#bl05)">
  <path d="M488,576 Q494,562 505,562 Q513,563 516,572"/>
  <path d="M560,581 Q566,571 577,571 Q586,574 589,586"/>
</g>
<rect x="485" y="573" width="4" height="5" fill="#f4f6fa"/>
<rect x="588" y="584" width="4" height="5" fill="#f4f6fa"/>
<!-- coil 2 PE -->
<ellipse cx="720" cy="583.5" rx="52.5" ry="41.5" fill="#a8aeea" filter="url(#bl1)" transform="rotate(10 720.6 582.5)"/>
<ellipse cx="720.6" cy="582.5" rx="48.5" ry="37.5" fill="#fafbfe" filter="url(#bl05)" transform="rotate(10 720.6 582.5)"/>
<g stroke="#dfe4f3" stroke-width="0.9" fill="none">
  <path d="M688,562 Q720,545 752,566"/>
  <path d="M676,596 Q715,625 762,606"/>
  <path d="M684,575 Q690,560 700,556"/>
</g>
<path d="M691,558 Q705,552 716,554" stroke="#5a62c0" stroke-width="1.2" fill="none" filter="url(#bl05)"/>
<ellipse cx="721" cy="587.5" rx="26" ry="13.5" fill="url(#holeg2)" transform="rotate(18 721 587.5)" filter="url(#bl05)"/>
<rect x="750" y="554" width="5" height="5" rx="2" fill="#f3f5fb"/>

</svg>
<div class="cap" style="left:37px;width:200px;top:652.5px;">注射阀(与泵头材质一致)<br><span style="letter-spacing:0.7px">尺寸(G3/8”和G1/2”)</span></div>
<div class="cap" style="left:230px;width:200px;top:652.5px;">底阀过滤器<br>(与泵头材质一致)</div>
<div class="cap" style="left:434px;width:200px;top:652.5px;">吸液管<br><span style="letter-spacing:0.8px">(PVC，2米，ф8×ф12)</span></div>
<div class="cap" style="left:630px;width:200px;top:652.5px;">排液管<br><span style="letter-spacing:0.8px">(PE，3米，ф8×ф12)</span></div>
</body></html>
